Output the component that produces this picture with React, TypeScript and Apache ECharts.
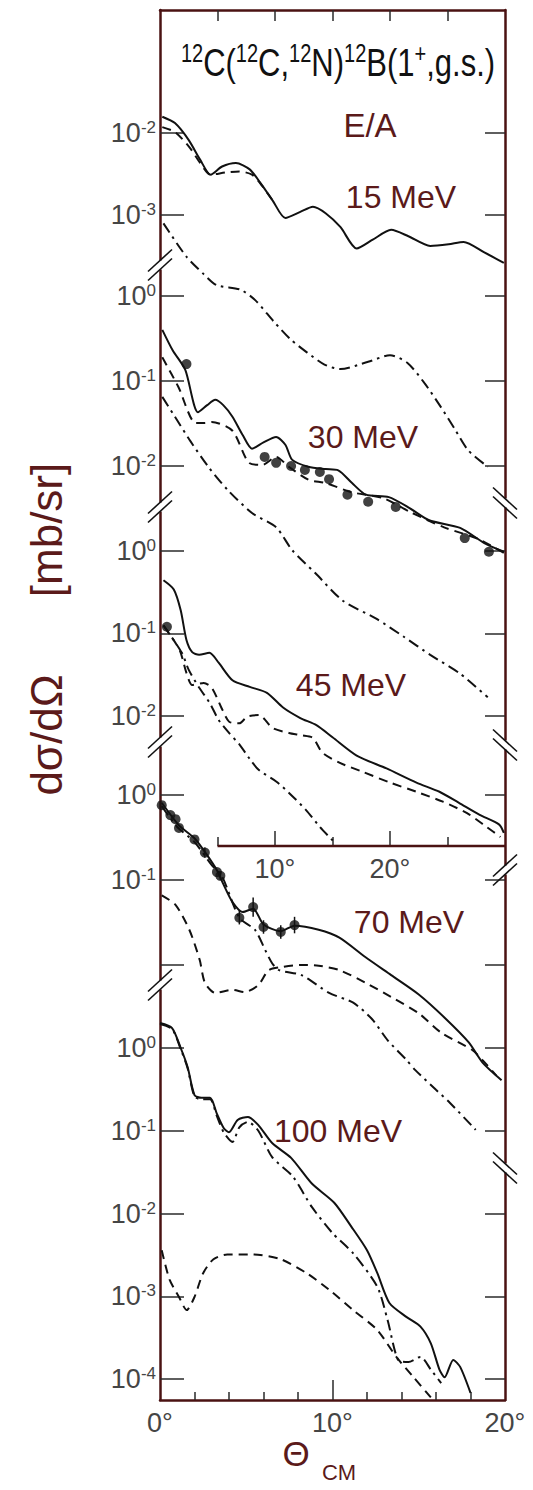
import React, { useEffect, useRef } from "react";
import * as echarts from "echarts";

// ---------- colours & fonts ----------
const INK = "#111111";
const FRAME = "#4a1212";
const MAROON = "#5b1a1a";
const GREY = "#454545";
const FONT = "'Liberation Sans', Arial, Helvetica, sans-serif";

// ---------- 15 MeV/A ----------
const theta15Full = [0.2, 1.3, 2.5, 3.5, 4.4, 5.4, 6.6, 7.8, 8.7, 9.8, 10.9, 12.2, 13.3, 14.4, 15.7, 17.1, 18.5, 20.1, 21.6, 23.5, 25.1, 26.4, 28.2, 29.9];
const sigma15Full = [1.58e-2, 1.32e-2, 8.2e-3, 4.7e-3, 3.1e-3, 3.9e-3, 4.3e-3, 3.6e-3, 2.5e-3, 1.5e-3, 9.2e-4, 1.09e-3, 1.26e-3, 1.05e-3, 7.1e-4, 3.9e-4, 5.0e-4, 6.6e-4, 5.5e-4, 4.2e-4, 4.4e-4, 4.7e-4, 3.5e-4, 2.6e-4];
const theta15Dash = [0.2, 1.3, 2.6, 3.5, 4.4, 5.7, 6.9, 8.0, 8.9, 9.8];
const sigma15Dash = [1.18e-2, 1.03e-2, 6.6e-3, 4.3e-3, 3.1e-3, 3.3e-3, 3.4e-3, 3.1e-3, 2.25e-3, 1.5e-3];
const theta15DashDot = [0.3, 2.3, 3.8, 4.9, 7.0, 8.3, 9.9, 11.4, 12.8, 14.3, 15.7, 18.1, 20.0, 21.5, 23.0, 24.4, 25.6, 26.8, 28.5];
const sigma15DashDot = [7.9e-4, 3.1e-4, 1.9e-4, 1.4e-4, 1.23e-4, 9.1e-5, 5.0e-5, 3.0e-5, 2.1e-5, 1.5e-5, 1.32e-5, 1.62e-5, 1.95e-5, 1.58e-5, 8.9e-6, 4.6e-6, 2.5e-6, 1.35e-6, 8.5e-7];

// ---------- 30 MeV/A ----------
const theta30Full = [0.2, 1.1, 2.2, 3.3, 4.1, 4.8, 5.5, 6.3, 7.2, 8.0, 9.0, 10.1, 10.9, 11.5, 12.9, 14.4, 15.5, 16.7, 17.9, 19.9, 21.7, 23.4, 26.1, 28.2, 29.9];
const sigma30Full = [0.40, 0.23, 0.135, 0.043, 0.052, 0.060, 0.052, 0.038, 0.023, 0.016, 0.019, 0.022, 0.0178, 0.0118, 0.0098, 0.0092, 0.0089, 0.0063, 0.0046, 0.0043, 0.0032, 0.0023, 0.00187, 0.00124, 0.00098];
const theta30Dash = [0.2, 1.6, 3.1, 3.9, 4.5, 6.3, 7.7, 8.9, 10.1, 11.2, 12.9, 14.4, 16.7, 19.4, 21.7, 24.7, 27.6, 29.9];
const sigma30Dash = [0.19, 0.085, 0.032, 0.032, 0.033, 0.026, 0.011, 0.0103, 0.0128, 0.0098, 0.0069, 0.0063, 0.0049, 0.0042, 0.0029, 0.0019, 0.0014, 0.00095];
const theta30DashDot = [0.2, 1.3, 2.6, 4.2, 5.9, 8.0, 10.1, 11.5, 13.5, 15.9, 18.8, 21.2, 23.5, 26.1, 28.5];
const sigma30DashDot = [0.065, 0.038, 0.020, 0.0098, 0.0052, 0.0028, 0.0019, 0.00102, 5.5e-4, 2.6e-4, 1.6e-4, 9.8e-5, 6.0e-5, 3.6e-5, 1.9e-5];
const theta30Exp = [2.3, 9.1, 10.1, 11.4, 12.6, 13.9, 14.7, 16.3, 18.1, 20.5, 26.5, 28.6];
const sigma30Exp = [0.158, 0.0128, 0.0109, 0.0100, 0.0090, 0.0085, 0.0070, 0.0046, 0.0038, 0.0033, 0.00142, 0.00098];

// ---------- 45 MeV/A ----------
const theta45Full = [0.3, 1.2, 1.8, 2.3, 2.8, 3.4, 4.3, 5.1, 6.3, 7.8, 9.3, 10.7, 12.2, 13.6, 15.0, 17.1, 19.7, 22.3, 24.3, 26.0, 27.8, 29.5, 29.9];
const sigma45Full = [0.44, 0.34, 0.19, 0.083, 0.059, 0.055, 0.058, 0.044, 0.027, 0.0224, 0.019, 0.0126, 0.0094, 0.0077, 0.0055, 0.0033, 0.0023, 0.00155, 0.0012, 8.8e-4, 6.3e-4, 4.8e-4, 3.8e-4];
const theta45Dash = [0.3, 1.7, 2.3, 2.8, 3.8, 4.5, 5.3, 6.0, 6.9, 7.6, 8.6, 9.8, 11.2, 12.3, 13.3, 14.1, 15.6, 17.6, 20.0, 22.3, 24.6, 26.7, 28.4, 29.6];
const sigma45Dash = [0.125, 0.063, 0.033, 0.0236, 0.025, 0.0219, 0.0129, 0.0085, 0.0081, 0.0098, 0.0102, 0.0071, 0.0062, 0.0058, 0.0054, 0.0036, 0.0027, 0.0021, 0.00155, 0.0012, 9.1e-4, 6.6e-4, 4.5e-4, 3.4e-4];
const theta45DashDot = [0.3, 1.9, 2.5, 3.4, 4.3, 5.1, 6.0, 6.9, 7.8, 8.6, 10.1, 11.2, 12.7, 13.9, 14.9, 15.2];
const sigma45DashDot = [0.125, 0.058, 0.036, 0.022, 0.0145, 0.0089, 0.0062, 0.0045, 0.0030, 0.0022, 0.0016, 0.00117, 7.2e-4, 4.5e-4, 3.2e-4, 2.9e-4];
const theta45Exp = [0.6];
const sigma45Exp = [0.12];

// ---------- 70 MeV/A ----------
const theta70Full = [0.1, 1.1, 2.0, 2.7, 3.3, 3.7, 4.2, 4.8, 5.4, 6.0, 7.0, 7.8, 9.2, 10.4, 11.9, 13.4, 15.0, 16.5, 17.9, 18.7, 19.8];
const sigma70Full = [0.81, 0.44, 0.31, 0.20, 0.13, 0.087, 0.055, 0.042, 0.046, 0.030, 0.025, 0.029, 0.026, 0.021, 0.0124, 0.0076, 0.0045, 0.0024, 0.00123, 7.1e-4, 4.4e-4];
const theta70Dash = [0.1, 0.9, 1.7, 2.3, 2.6, 3.2, 4.2, 4.9, 5.7, 6.3, 7.1, 8.1, 9.2, 10.4, 11.9, 13.4, 15.0, 16.3, 18.1, 18.7, 19.5];
const sigma70Dash = [0.066, 0.051, 0.026, 0.0115, 0.0062, 0.0047, 0.0051, 0.0048, 0.0058, 0.0087, 0.0095, 0.0100, 0.0098, 0.0087, 0.0062, 0.0042, 0.0027, 0.0016, 1.0e-3, 7.6e-4, 5.0e-4];
const theta70DashDot = [0.1, 1.0, 2.0, 3.0, 3.6, 4.6, 5.5, 6.1, 6.5, 6.9, 8.2, 9.8, 11.2, 12.3, 13.2, 14.3, 14.8, 16.0, 16.8, 18.3];
const sigma70DashDot = [0.74, 0.42, 0.28, 0.15, 0.11, 0.036, 0.026, 0.015, 0.0105, 0.0087, 0.0076, 0.0047, 0.0036, 0.0023, 0.0013, 7.6e-4, 5.8e-4, 3.4e-4, 2.4e-4, 1.15e-4];
const theta70Exp = [0.1, 0.6, 0.9, 1.1, 2.0, 2.6, 3.3, 3.5, 4.6, 5.4, 6.0, 7.0, 7.8];
const sigma70Exp = [0.76, 0.58, 0.52, 0.41, 0.30, 0.21, 0.124, 0.112, 0.036, 0.048, 0.028, 0.0245, 0.0295];
const errFactor70 = [1, 1, 1, 1, 1, 1.15, 1, 1.12, 1.2, 1.3, 1.2, 1.2, 1.25];

// ---------- 100 MeV/A ----------
const theta100Full = [0.0, 0.7, 1.2, 1.6, 2.0, 2.4, 2.9, 3.3, 3.7, 4.0, 4.5, 5.1, 5.7, 6.5, 7.6, 8.8, 10.1, 11.1, 12.0, 12.6, 13.3, 14.3, 15.1, 15.7, 16.2, 16.5, 17.0, 17.4, 18.0];
const sigma100Full = [2.0, 1.74, 1.0, 0.59, 0.27, 0.25, 0.25, 0.16, 0.107, 0.096, 0.135, 0.147, 0.117, 0.071, 0.047, 0.023, 0.0135, 0.0069, 0.0036, 0.0019, 8.3e-4, 5.6e-4, 4.3e-4, 2.7e-4, 1.3e-4, 1.05e-4, 1.7e-4, 1.4e-4, 6.8e-5];
const theta100Dash = [0.1, 0.55, 1.1, 1.55, 2.0, 2.5, 3.1, 3.9, 5.4, 7.0, 8.5, 9.8, 11.2, 12.6, 13.7, 14.7, 15.7];
const sigma100Dash = [0.0036, 0.0016, 9.8e-4, 6.8e-4, 9.8e-4, 0.0019, 0.0028, 0.0032, 0.0032, 0.0028, 0.0019, 0.0012, 6.8e-4, 3.9e-4, 1.85e-4, 1.05e-4, 6.0e-5];
const theta100DashDot = [0.0, 0.7, 1.2, 1.6, 2.0, 2.4, 2.9, 3.3, 3.7, 4.2, 4.6, 5.1, 5.7, 6.5, 7.7, 8.8, 10.0, 11.2, 12.6, 13.2, 13.8, 14.4, 15.1, 15.7, 16.3];
const sigma100DashDot = [1.95, 1.7, 0.97, 0.57, 0.26, 0.24, 0.24, 0.15, 0.095, 0.073, 0.11, 0.128, 0.10, 0.048, 0.028, 0.012, 0.0058, 0.0033, 0.0013, 5.1e-4, 1.7e-4, 1.6e-4, 1.85e-4, 1.3e-4, 8.9e-5];

// ---------- tick decades (exponents) ----------
const ticks15 = [-2, -3];
const ticks30 = [0, -1, -2];
const ticks45 = [0, -1, -2];
const ticks70 = [0, -1, -2];
const labels70 = [0, -1];
const ticks100 = [0, -1, -2, -3, -4];

const energyLabels = ["15 MeV", "30 MeV", "45 MeV", "70 MeV", "100 MeV"];
const upperAngleLabels = [10, 20];
const upperAngleTicks = [5, 15, 25];
const topAngleTicks = [5, 10, 15, 20, 25];

// ---------- layout (pixels) ----------
const W = 533;
const H = 1490;
const BOX = { left: 160, right: 505, top: 10, bottom: 1400, inner: 846 };

// each panel: its own log scale, anchored by one decade line and the decade spacing
const panels = [
  { grid: 0, anchorExp: -2, anchorPx: 133, pxPerDecade: 82, ticks: ticks15, labels: ticks15 },
  { grid: 0, anchorExp: 0, anchorPx: 296, pxPerDecade: 85, ticks: ticks30, labels: ticks30 },
  { grid: 0, anchorExp: -1, anchorPx: 633.3, pxPerDecade: 82.5, ticks: ticks45, labels: ticks45 },
  { grid: 1, anchorExp: 0, anchorPx: 795, pxPerDecade: 85, ticks: ticks70, labels: labels70 },
  { grid: 1, anchorExp: 0, anchorPx: 1048, pxPerDecade: 82.75, ticks: ticks100, labels: ticks100 },
];

const labelPos = [
  [401, 197],
  [363, 437],
  [351, 685],
  [409, 922],
  [338, 1131],
];

const breaksLeft = [265, 507, 742, 985];
const breaksRight = [
  { y: 503, dir: -1 },
  { y: 745, dir: -1 },
  { y: 870, dir: 1 },
  { y: 1168, dir: -1 },
];

const lg = (v: number) => Math.log10(v);
const pts = (t: number[], s: number[]) => t.map((x, i) => [x, lg(s[i])]);

const DASH = [9, 6];
const DASHDOT = [11, 5, 2.5, 5];

function decadeFmt(v: number) {
  const e = Math.round(v);
  return `{b|10}{s|${e === 0 ? "0" : "-" + Math.abs(e)}}`;
}

const tickRich = {
  b: { fontSize: 27, lineHeight: 28, color: GREY, fontFamily: FONT },
  s: { fontSize: 17, lineHeight: 16, verticalAlign: "top", color: GREY, fontFamily: FONT },
};

function buildOption() {
  const gridBottomPx = [BOX.inner, BOX.bottom];
  const yAxis: any[] = [];
  panels.forEach((p, i) => {
    const gBot = gridBottomPx[p.grid];
    const max = p.anchorExp + (p.anchorPx - BOX.top) / p.pxPerDecade;
    const min = p.anchorExp - (gBot - p.anchorPx) / p.pxPerDecade;
    const frame = i === panels.length - 1;
    (["left", "right"] as const).forEach((side) => {
      yAxis.push({
        type: "value",
        gridIndex: p.grid,
        position: side,
        min,
        max,
        axisLine: { show: frame, onZero: false, lineStyle: { color: FRAME, width: 2.5 } },
        axisTick: {
          show: true,
          inside: true,
          length: side === "left" ? 24 : 20,
          customValues: p.ticks,
          lineStyle: { color: "#2a2a2a", width: 1.5 },
        },
        axisLabel:
          side === "left"
            ? { show: true, customValues: p.labels, formatter: decadeFmt, rich: tickRich, margin: 4 }
            : { show: false },
        splitLine: { show: false },
      });
    });
  });

  const tickLine = { color: "#2a2a2a", width: 1.5 };
  const angleLabel = { fontSize: 27, color: GREY, fontFamily: FONT, margin: 9 };
  const xAxis: any[] = [
    {
      type: "value", gridIndex: 0, position: "bottom", min: 0, max: 30,
      axisLine: { show: false, onZero: false },
      axisTick: { show: true, inside: true, length: 15, customValues: upperAngleLabels, lineStyle: tickLine },
      axisLabel: { show: true, customValues: upperAngleLabels, formatter: "{value}°", ...angleLabel },
      splitLine: { show: false },
    },
    {
      type: "value", gridIndex: 0, position: "bottom", min: 0, max: 30,
      axisLine: { show: false, onZero: false },
      axisTick: { show: true, inside: true, length: 9, customValues: upperAngleTicks, lineStyle: tickLine },
      axisLabel: { show: false },
      splitLine: { show: false },
    },
    {
      type: "value", gridIndex: 0, position: "top", min: 0, max: 30,
      axisLine: { show: true, onZero: false, lineStyle: { color: FRAME, width: 2.5 } },
      axisTick: { show: true, inside: true, length: 11, customValues: topAngleTicks, lineStyle: tickLine },
      axisLabel: { show: false },
      splitLine: { show: false },
    },
    {
      type: "value", gridIndex: 1, position: "bottom", min: 0, max: 20, interval: 10,
      axisLine: { show: true, onZero: false, lineStyle: { color: FRAME, width: 2.5 } },
      axisTick: { show: true, inside: true, length: 20, customValues: [10], lineStyle: tickLine },
      minorTick: { show: true, splitNumber: 5, length: 8, lineStyle: tickLine },
      axisLabel: { show: true, formatter: "{value}°", ...angleLabel },
      splitLine: { show: false },
    },
  ];

  const curve = (x: number, y: number, t: number[], s: number[], type: any, width = 2) => ({
    type: "line",
    xAxisIndex: x,
    yAxisIndex: y,
    data: pts(t, s),
    symbol: "none",
    smooth: 0.25,
    silent: true,
    lineStyle: { color: INK, width, type },
    z: 3,
  });
  const dots = (x: number, y: number, t: number[], s: number[]) => ({
    type: "scatter",
    xAxisIndex: x,
    yAxisIndex: y,
    data: pts(t, s),
    symbol: "circle",
    symbolSize: 10,
    silent: true,
    itemStyle: { color: INK },
    z: 4,
  });

  const errData = theta70Exp
    .map((t, i) => [t, lg(sigma70Exp[i] / errFactor70[i]), lg(sigma70Exp[i] * errFactor70[i])])
    .filter((d, i) => errFactor70[i] > 1);

  const series: any[] = [
    curve(0, 0, theta15Full, sigma15Full, "solid"),
    curve(0, 0, theta15Dash, sigma15Dash, DASH),
    curve(0, 0, theta15DashDot, sigma15DashDot, DASHDOT),
    curve(0, 2, theta30Full, sigma30Full, "solid"),
    curve(0, 2, theta30Dash, sigma30Dash, DASH),
    curve(0, 2, theta30DashDot, sigma30DashDot, DASHDOT),
    dots(0, 2, theta30Exp, sigma30Exp),
    curve(0, 4, theta45Full, sigma45Full, "solid"),
    curve(0, 4, theta45Dash, sigma45Dash, DASH),
    curve(0, 4, theta45DashDot, sigma45DashDot, DASHDOT),
    dots(0, 4, theta45Exp, sigma45Exp),
    curve(3, 6, theta70Full, sigma70Full, "solid"),
    curve(3, 6, theta70Dash, sigma70Dash, DASH),
    curve(3, 6, theta70DashDot, sigma70DashDot, DASHDOT),
    dots(3, 6, theta70Exp, sigma70Exp),
    {
      type: "custom",
      xAxisIndex: 3,
      yAxisIndex: 6,
      silent: true,
      data: errData,
      encode: { x: 0, y: [1, 2] },
      z: 4,
      renderItem: (params: any, api: any) => {
        const lo = api.coord([api.value(0), api.value(1)]);
        const hi = api.coord([api.value(0), api.value(2)]);
        return {
          type: "line",
          shape: { x1: lo[0], y1: lo[1], x2: hi[0], y2: hi[1] },
          style: { stroke: INK, lineWidth: 1.5 },
        };
      },
    },
    curve(3, 8, theta100Full, sigma100Full, "solid"),
    curve(3, 8, theta100Dash, sigma100Dash, DASH),
    curve(3, 8, theta100DashDot, sigma100DashDot, DASHDOT),
  ];

  return {
    animation: false,
    backgroundColor: "#ffffff",
    grid: [
      { left: BOX.left, right: W - BOX.right, top: BOX.top, bottom: H - BOX.inner, outerBoundsMode: "none", containLabel: false },
      { left: BOX.left, right: W - BOX.right, top: BOX.top, bottom: H - BOX.bottom, outerBoundsMode: "none", containLabel: false },
    ],
    xAxis,
    yAxis,
    series,
  };
}

function breakMark(x: number, y: number, dir: number) {
  const els: any[] = [
    { type: "rect", shape: { x: x - 3, y: y - 4.5, width: 6, height: 9 }, style: { fill: "#ffffff" }, z: 100 },
  ];
  [-4.5, 4.5].forEach((d) => {
    els.push({
      type: "line",
      shape: { x1: x - 12, y1: y + d + 11 * dir, x2: x + 12, y2: y + d - 11 * dir },
      style: { stroke: INK, lineWidth: 1.6 },
      z: 101,
    });
  });
  return els;
}

function maroonText(text: string, x: number, y: number, fontSize: number, extra: any = {}) {
  return {
    type: "text",
    x,
    y,
    z: 50,
    ...extra,
    style: {
      text,
      fill: MAROON,
      fontSize,
      fontFamily: FONT,
      align: "center",
      verticalAlign: "middle",
    },
  };
}

export default function App() {
  const ref = useRef<HTMLDivElement>(null);

  useEffect(() => {
    document.body.style.margin = "0";
    const chart = echarts.init(ref.current as HTMLDivElement, undefined, { renderer: "svg" });
    chart.setOption(buildOption());

    // inner angle axis of the upper panels starts at 5 degrees
    const xStart = chart.convertToPixel({ xAxisIndex: 0 }, 5) as number;
    const xEnd = chart.convertToPixel({ xAxisIndex: 0 }, 30) as number;

    const graphic: any[] = [
      {
        type: "line",
        shape: { x1: xStart, y1: BOX.inner, x2: xEnd, y2: BOX.inner },
        style: { stroke: FRAME, lineWidth: 2.5 },
        z: 20,
      },
      {
        type: "text",
        x: 338,
        y: 62,
        scaleY: 1.25,
        z: 50,
        style: {
          text: "{s|12}{m|C(}{s|12}{m|C,}{s|12}{m|N)}{s|12}{m|B(1}{s|+}{m|,g.s.)}",
          align: "center",
          verticalAlign: "middle",
          rich: {
            m: { fontSize: 31, lineHeight: 33, fill: INK, fontFamily: FONT },
            s: { fontSize: 20, lineHeight: 20, verticalAlign: "top", fill: INK, fontFamily: FONT },
          },
        },
      },
      maroonText("E/A", 370, 125, 33),
      ...energyLabels.map((t, i) => maroonText(t, labelPos[i][0], labelPos[i][1], 32)),
      maroonText("[mb/sr]", 46, 530, 44, { rotation: Math.PI / 2 }),
      maroonText("dσ/dΩ", 46, 735, 44, { rotation: Math.PI / 2 }),
      maroonText("Θ", 296, 1453, 35),
      maroonText("CM", 339, 1472, 22),
    ];
    breaksLeft.forEach((y) => graphic.push(...breakMark(BOX.left, y, 1)));
    breaksRight.forEach((b) => graphic.push(...breakMark(BOX.right, b.y, b.dir)));

    chart.setOption({ graphic });
    return () => chart.dispose();
  }, []);

  return <div ref={ref} style={{ width: W, height: H }} />;
}
